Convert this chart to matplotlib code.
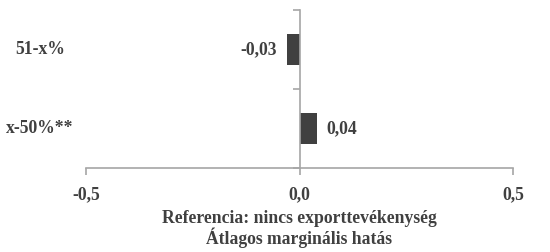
import numpy as np
import matplotlib
matplotlib.use("Agg")
import matplotlib.pyplot as plt
from matplotlib.transforms import blended_transform_factory

# data (top to bottom)
categories = ["51-x%", "x-50%**"]
values     = [-0.03, 0.04]
labels     = ["-0,03", "0,04"]
xticks     = [-0.5, 0.0, 0.5]
xticklabels = ["-0,5", "0,0", "0,5"]
xlabel_lines = ["Referencia: nincs exporttevékenység", "Átlagos marginális hatás"]

TXT = "#404040"
AX  = "#a6a6a6"
FS  = 12.7
plt.rcParams["font.family"] = ["Liberation Serif", "DejaVu Serif"]
plt.rcParams["font.weight"] = "bold"

fig = plt.figure(figsize=(5.5, 2.52), dpi=100)
ax = fig.add_axes([86/550, 1 - 168/252, (513 - 86)/550, (168 - 10)/252])

ypos = np.arange(len(categories))[::-1] + 0.5
ax.barh(ypos, values, height=0.4, color="#404040")
ax.set_ylim(0, 2)
ax.set_xlim(-0.5, 0.5)

for y, v, lab in zip(ypos, values, labels):
    off = 7 if v > 0 else -7
    ax.annotate(lab, (v, y), xytext=(off, 0), textcoords="offset points",
                ha="left" if v > 0 else "right", va="center",
                fontsize=FS, color=TXT, fontweight="bold")

# category labels at the figure's left edge
tr = blended_transform_factory(fig.transFigure, ax.transData)
for y, c in zip(ypos, categories):
    fig.text(40/550, y, c, transform=tr, ha="center", va="center",
             fontsize=FS, color=TXT, fontweight="bold")

ax.spines["left"].set_position(("data", 0))
ax.spines["right"].set_visible(False)
ax.spines["top"].set_visible(False)
for s in ("left", "bottom"):
    ax.spines[s].set_color(AX)
    ax.spines[s].set_linewidth(1.2)
ax.set_yticks([0, 1, 2])
ax.set_yticklabels([])
ax.set_xticks(xticks)
ax.set_xticklabels(xticklabels)
ax.tick_params(axis="both", color=AX, length=5, width=1.2, direction="out")
ax.tick_params(axis="x", labelsize=FS, labelcolor=TXT, pad=8)

# two-line axis title, placed line by line (baselines)
tx = blended_transform_factory(ax.transData, fig.transFigure)
for i, line in enumerate(xlabel_lines):
    fig.text(0.0, 1 - (223 + 21 * i)/252, line, transform=tx,
             ha="center", va="baseline", fontsize=FS, color=TXT,
             fontweight="bold")

fig.savefig("out.png", dpi=100)
